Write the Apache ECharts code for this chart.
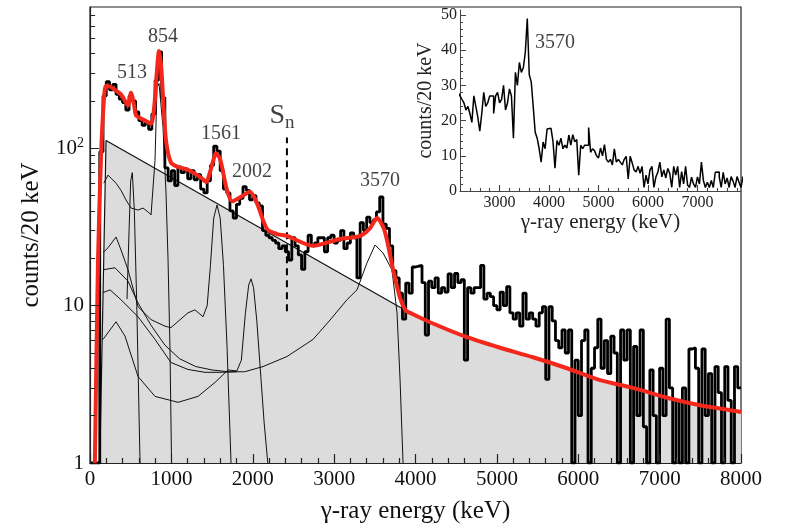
<!DOCTYPE html>
<html><head><meta charset="utf-8">
<script src="https://cdn.jsdelivr.net/npm/echarts@6/dist/echarts.min.js"></script>
<style>html,body{margin:0;padding:0;background:#fff}#c{width:785px;height:529px}</style>
</head><body><div id="c"></div>
<script>
// ---------------- DATA ----------------
const BIN_WIDTH = 40; // keV per plotted bin (values are counts/20 keV)
const counts = [
  1,1,1,95,215,265,235,255,220,205,
  195,175,215,200,170,150,140,145,132,165,
  270,410,210,75,62,72,58,76,70,74,
  64,72,63,68,55,52,62,78,103,96,
  72,55,52,40,36,44,48,57,54,47,
  50,45,43,30,28,27,26,25,23,24,
  22,19.5,27,24,21,17,22,28,24,25,
  27,27,22,27,28,25,26,30,23,25,
  29,27,15,33.7,30,36.5,33.7,35,39.4,49,
  33,31,24,16.7,15,12,8.2,13.9,12,17.6,
  17.8,18,14,6.5,14.3,13,15,12,13,12.2,
  15.9,13,16,14,14.6,4.5,13,12,13,13,
  18,11,12,11.4,10,9.4,12.2,10,13.2,9,
  8.2,9,7.4,12,8.2,9,8.2,7.4,9,9.85,
  3.4,9.85,8,6,5.4,7,5,7,1,4.5,
  2,6,7,1,4,5.4,8.2,4,6,3.7,
  6.4,5,1,7,4.5,7,1,5.5,2,7,
  1.7,1,3.9,2,1,4,2,8.2,3,1,
  2.5,1,3,1,5.3,5.4,4,1,5.3,2,
  3.7,1,4.1,2.8,1,4.1,2.5,1,4.1,3
];
const fitCurve = [
  [60,1],[98,19],[135,88],[170,200],[197,250],[258,245],[320,232],[381,220],[430,200],[467,187],
  [504,225],[540,190],[565,162],[620,155],[676,150],[750,143],[790,185],[820,300],[848,415],[875,330],
  [900,200],[934,112],[995,81],[1082,76],[1204,73],[1364,65],[1426,61],[1490,75],[1549,93],[1600,85],
  [1680,55],[1745,46],[1850,49],[1966,53],[2050,45],[2175,30.7],[2300,28.5],[2421,27.7],[2741,24],[3073,26.5],
  [3318,27.7],[3440,31],[3527,36],[3620,30],[3724,17],[3810,11.2],[3880,9.3],[3933,9.0],[4215,7.7],[4633,6.3],
  [5039,5.4],[5444,4.7],[5862,4.0],[6268,3.36],[6673,3.0],[7091,2.6],[7497,2.33],[7951,2.13],[8000,2.1]
];
const bgLine = [[120,1],[197,112],[3880,9.3]];
const comp513 = [[455,11],[480,30],[500,62],[520,70],[545,40],[575,10],[615,1]];
const comp854 = [[170,60],[221,67.5],[258,64.6],[320,60],[381,54],[442,47],[504,41.7],[590,40.5],[651,41.7],
  [713,39.4],[750,37.7],[799,84],[823,243],[848,258],[897,136],[934,52],[959,19.6],[983,5.3],[1002,1]];
const comp1561 = [[160,21.7],[221,23.3],[320,27.3],[381,22.6],[467,16.9],[590,9.85],[750,8.15],[922,7.4],
  [995,7.25],[1204,9.0],[1290,9.4],[1389,8.5],[1440,10],[1480,18],[1520,36],[1561,43.6],[1600,36],[1640,18],
  [1684,5.5],[1733,1]];
const comp3570 = [[160,16.9],[307,17.4],[467,14.3],[590,10.4],[750,7.5],[922,5.6],[1100,4.6],[1300,4.1],
  [1500,3.9],[1700,3.8],[1900,3.8],[2126,4.1],[2421,4.75],[2741,6.1],[2950,8.1],[3158,10.9],[3281,12.6],
  [3404,18.7],[3503,24.3],[3601,21.6],[3711,16.9],[3773,9],[3810,3.4],[3847,1]];
const compC = [[160,12.1],[246,12.6],[381,10.9],[590,8.5],[799,6.1],[995,4.35],[1204,3.93],[1413,3.77],[1610,3.77],[1800,3.8]];
const compD = [[160,6.1],[320,7.9],[430,6.4],[590,3.55],[799,2.65],[1082,2.43],[1327,2.65],[1536,3.25],[1696,3.9],[1800,3.85]];
const comp2002 = [[1800,3.8],[1860,4.5],[1910,9],[1950,13.5],[1979,14.8],[2010,13],[2050,8],[2100,3.5],[2140,1.8],[2185,1]];
const snLine = [[2420,9.2],[2420,117]];
const peakLabels = [
  {name:'513', value:[516,303]},
  {name:'854', value:[897,511]},
  {name:'1561', value:[1610,123]},
  {name:'2002', value:[1991,70.5]},
  {name:'3570', value:[3564,62]}
];
const snLabel = [{name:'Sn', value:[2360,160]}];
const insetLabel = [{name:'3570', value:[4119,42]}];
// tick positions
const xMajorTicks = [0,1000,2000,3000,4000,5000,6000,7000,8000];
const yMajorTicks = [1,10,100];
const yMinorTicks = [2,3,4,5,6,7,8,9,20,30,40,50,60,70,80,90,200,300,400,500,600,700];
const insetXMajor = [3000,4000,5000,6000,7000];
const insetYMajor = [0,10,20,30,40,50];

// ---------------- BUILD ----------------
const FONT = 'Liberation Serif';
const INK = '#111';
const hist = counts.map((v,i)=>[i*BIN_WIDTH, v]);
hist.push([counts.length*BIN_WIDTH, counts[counts.length-1]]);
const insetHist = hist.filter(p => p[0] >= 2160);
const bgArea = bgLine.concat(fitCurve.filter(p => p[0] > 3880));
const plain = (v) => String(Math.round(v));
const xMinorTicks = []; for (let e=200; e<8000; e+=200) if (e%1000) xMinorTicks.push(e);
const insetXMinor = []; for (let e=2400; e<7880; e+=200) if (e%1000) insetXMinor.push(e);
const insetYMinor = []; for (let c=2; c<51; c+=2) if (c%10) insetYMinor.push(c);

// tick segments expressed in axis units (start on the axis, end a short way into the plot)
const seg = (a, b) => ({coords:[a, b]});
const mainTickSegs = [].concat(
  xMajorTicks.map(e=>seg([e,1],[e,1.14])),
  xMinorTicks.map(e=>seg([e,1],[e,1.076])),
  yMajorTicks.map(v=>seg([0,v],[110,v])),
  yMinorTicks.map(v=>seg([0,v],[62,v])));
const insetTickSegs = [].concat(
  insetXMajor.map(e=>seg([e,0],[e,1.7])),
  insetXMinor.map(e=>seg([e,0],[e,0.85])),
  insetYMajor.map(v=>seg([2200,v],[2321,v])),
  insetYMinor.map(v=>seg([2200,v],[2261,v])));

const thin = (data) => ({type:'line', data, xAxisIndex:0, yAxisIndex:0, symbol:'none', silent:true,
  lineStyle:{color:INK, width:1}, z:3});

const chart = echarts.init(document.getElementById('c'), null, {renderer:'canvas'});
chart.setOption({
  animation:false,
  backgroundColor:'#fff',
  grid:[
    {left:90, top:7, width:651, height:458, show:true, borderColor:'#222', borderWidth:1.2, backgroundColor:'transparent'},
    {left:460, top:10, width:281, height:181, show:false}
  ],
  xAxis:[
    {type:'value', gridIndex:0, min:0, max:8000, interval:1000,
     axisLine:{show:true, lineStyle:{color:'#222', width:1.2}},
     axisTick:{show:false}, minorTick:{show:false}, splitLine:{show:false},
     axisLabel:{fontFamily:FONT, fontSize:21, color:INK, margin:6, formatter:plain},
     name:'γ-ray energy (keV)', nameLocation:'middle', nameGap:36,
     nameTextStyle:{fontFamily:FONT, fontSize:25, color:INK}},
    {type:'value', gridIndex:1, min:2200, max:7880, splitNumber:5,
     axisLine:{show:true, lineStyle:{color:'#444', width:1}},
     axisTick:{show:false}, minorTick:{show:false}, splitLine:{show:false},
     axisLabel:{fontFamily:FONT, fontSize:16, color:'#222', margin:4, showMinLabel:false, showMaxLabel:false, formatter:plain},
     name:'γ-ray energy (keV)', nameLocation:'middle', nameGap:18,
     nameTextStyle:{fontFamily:FONT, fontSize:21, color:'#222'}}
  ],
  yAxis:[
    {type:'log', logBase:10, gridIndex:0, min:1, max:790,
     axisLine:{show:true, lineStyle:{color:'#222', width:1.2}},
     axisTick:{show:false}, splitLine:{show:false},
     axisLabel:{fontFamily:FONT, fontSize:21, color:INK, margin:6, showMaxLabel:false,
       formatter:(v)=>{const r=Math.round(v); if(Math.abs(v-r)>1e-6) return ''; if(r===1) return '1'; if(r===10) return '10'; if(r===100) return '{b|10}{s|2}'; return '';},
       rich:{b:{fontFamily:FONT, fontSize:21, color:INK}, s:{fontFamily:FONT, fontSize:14, color:INK, verticalAlign:'top', padding:[0,0,10,0]}}},
     name:'counts/20 keV', nameLocation:'middle', nameGap:46,
     nameTextStyle:{fontFamily:FONT, fontSize:25, color:INK}},
    {type:'value', gridIndex:1, min:0, max:51.4, interval:10,
     axisLine:{show:true, lineStyle:{color:'#444', width:1}},
     axisTick:{show:false}, minorTick:{show:false}, splitLine:{show:false},
     axisLabel:{fontFamily:FONT, fontSize:16, color:'#222', margin:3, showMaxLabel:false},
     name:'counts/20 keV', nameLocation:'middle', nameGap:24,
     nameTextStyle:{fontFamily:FONT, fontSize:20, color:'#222'}}
  ],
  series:[
    {type:'line', data:bgArea, xAxisIndex:0, yAxisIndex:0, symbol:'none', silent:true, z:1,
     lineStyle:{opacity:0}, areaStyle:{color:'#dcdcdc', opacity:1, origin:'start'}},
    thin(comp513), thin(comp854), thin(comp1561), thin(comp3570), thin(compC), thin(compD), thin(comp2002),
    Object.assign(thin(bgLine), {lineStyle:{color:INK, width:1.2}}),
    {type:'line', data:hist, xAxisIndex:0, yAxisIndex:0, step:'end', symbol:'none', silent:true, z:4,
     lineStyle:{color:'#000', width:2.8}},
    {type:'line', data:snLine, xAxisIndex:0, yAxisIndex:0, symbol:'none', silent:true, z:4,
     lineStyle:{color:'#000', width:2, type:[7,5]}},
    {type:'line', data:fitCurve, xAxisIndex:0, yAxisIndex:0, symbol:'none', silent:true, z:6, smooth:0.25,
     lineStyle:{color:'#f3271b', width:4}},
    {type:'lines', coordinateSystem:'cartesian2d', xAxisIndex:0, yAxisIndex:0, silent:true, z:9,
     data:mainTickSegs, lineStyle:{color:'#222', width:1.2, opacity:1}, effect:{show:false}},
    {type:'lines', coordinateSystem:'cartesian2d', xAxisIndex:1, yAxisIndex:1, silent:true, z:9,
     data:insetTickSegs, lineStyle:{color:'#444', width:1.1, opacity:1}, effect:{show:false}},
    {type:'scatter', data:peakLabels, xAxisIndex:0, yAxisIndex:0, symbolSize:0, silent:true, z:7,
     label:{show:true, position:'inside', formatter:'{b}', fontFamily:FONT, fontSize:20, color:INK}},
    {type:'scatter', data:snLabel, xAxisIndex:0, yAxisIndex:0, symbolSize:0, silent:true, z:7,
     label:{show:true, position:'inside', formatter:'{s|S}{n|n}',
       rich:{s:{fontFamily:FONT, fontSize:28, color:INK}, n:{fontFamily:FONT, fontSize:19, color:INK, padding:[14,0,0,0]}}}},
    {type:'line', data:insetHist, xAxisIndex:1, yAxisIndex:1, step:'end', symbol:'none', silent:true, z:4,
     lineStyle:{color:'#000', width:1.5}},
    {type:'scatter', data:insetLabel, xAxisIndex:1, yAxisIndex:1, symbolSize:0, silent:true, z:7,
     label:{show:true, position:'inside', formatter:'{b}', fontFamily:FONT, fontSize:20, color:INK}}
  ]
});
</script></body></html>
